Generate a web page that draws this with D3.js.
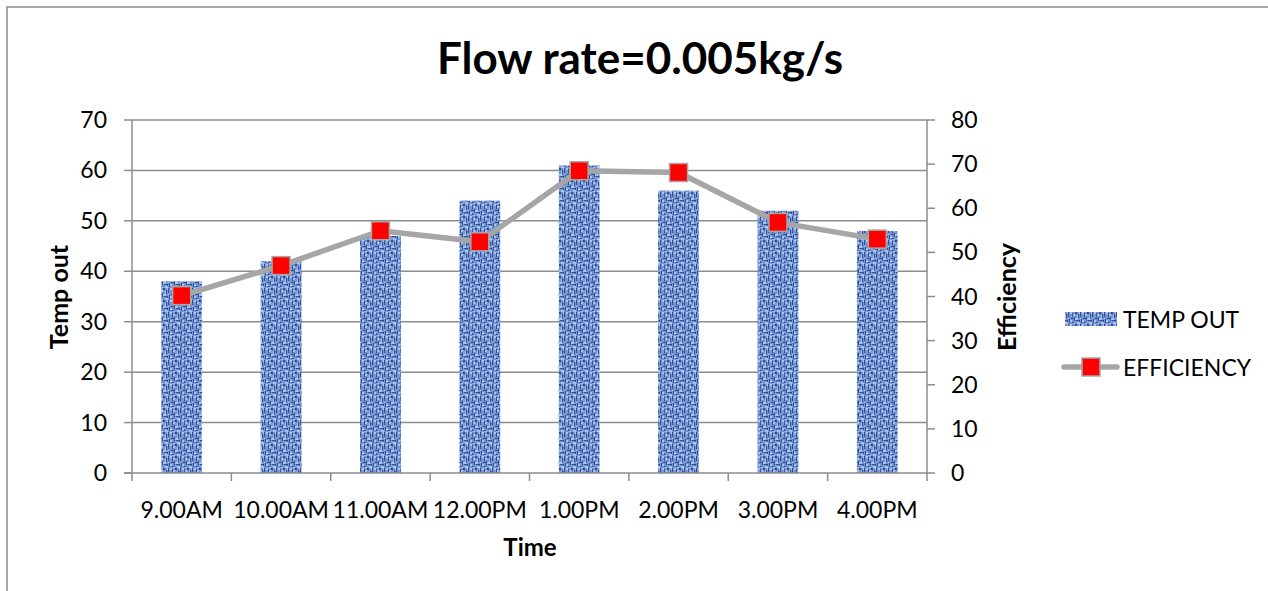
<!DOCTYPE html>
<html>
<head>
<meta charset="utf-8">
<script src="https://cdn.jsdelivr.net/npm/d3@7"></script>
<style>
  body { margin: 0; background: #fff; }
  svg { display: block; }
  text { font-family: Lato, "Open Sans", sans-serif; fill: #000; }
</style>
</head>
<body>
<svg id="chart" width="1268" height="591"></svg>
<script>
// data
const times = ['9.00AM', '10.00AM', '11.00AM', '12.00PM', '1.00PM', '2.00PM', '3.00PM', '4.00PM']
const tempOut = [38, 42, 47, 54, 61, 56, 52, 48]
const efficiency = [40.2, 47.0, 54.9, 52.4, 68.5, 68.1, 56.8, 53.0]
const leftTicks = [0, 10, 20, 30, 40, 50, 60, 70]
const rightTicks = [0, 10, 20, 30, 40, 50, 60, 70, 80]

let svg = d3.select('#chart')

// plot box
const plotLeft = 132, plotRight = 927, plotTop = 120, plotBottom = 473
const gridColor = '#8c8c8c'

let x = d3.scaleBand()
    .domain(times)
    .range([plotLeft, plotRight])
    .paddingInner(0.59)
    .paddingOuter(0.295)

let yL = d3.scaleLinear().domain([0, 70]).range([plotBottom, plotTop])
let yR = d3.scaleLinear().domain([0, 80]).range([plotBottom, plotTop])

// denim-like texture for bars
let defs = svg.append('defs')
let pat = defs.append('pattern')
    .attr('id', 'denim')
    .attr('patternUnits', 'userSpaceOnUse')
    .attr('width', 12)
    .attr('height', 12)
pat.append('rect').attr('width', 12).attr('height', 12).attr('fill', '#7494d4')
// dark threads
const darkBits = [[0,0,1,5],[4,1,1,4],[7,0,2,2],[10,2,1,4],[1,7,1,4],[3,6,3,1],[6,5,1,4],[8,8,3,1],[11,8,1,3],[4,10,2,1]]
darkBits.forEach(b => pat.append('rect').attr('x', b[0]).attr('y', b[1]).attr('width', b[2]).attr('height', b[3]).attr('fill', '#2f4f8f'))
// light threads
const lightBits = [[2,0,2,2],[5,2,2,2],[9,3,1,3],[0,6,1,1],[2,8,2,2],[7,6,3,2],[9,10,3,2],[5,11,2,1],[11,0,1,2]]
lightBits.forEach(b => pat.append('rect').attr('x', b[0]).attr('y', b[1]).attr('width', b[2]).attr('height', b[3]).attr('fill', '#a9c2ee'))

// outer chart border
svg.append('rect')
    .attr('x', 7).attr('y', 7)
    .attr('width', 1300).attr('height', 620)
    .attr('fill', 'none')
    .attr('stroke', '#8c8c8c')
    .attr('stroke-width', 1.5)

// gridlines (left scale)
svg.append('g')
    .selectAll('line')
    .data(leftTicks.filter(d => d > 0))
    .join('line')
    .attr('x1', plotLeft).attr('x2', plotRight)
    .attr('y1', d => yL(d)).attr('y2', d => yL(d))
    .attr('stroke', gridColor)
    .attr('stroke-width', 1.5)

// bars
svg.append('g')
    .selectAll('rect')
    .data(times)
    .join('rect')
    .attr('x', d => x(d))
    .attr('y', (d, i) => yL(tempOut[i]))
    .attr('width', x.bandwidth())
    .attr('height', (d, i) => plotBottom - yL(tempOut[i]))
    .attr('fill', 'url(#denim)')

// left axis
let axL = svg.append('g')
axL.append('line').attr('x1', plotLeft).attr('x2', plotLeft).attr('y1', plotTop).attr('y2', plotBottom)
    .attr('stroke', gridColor).attr('stroke-width', 1.5)
axL.selectAll('.tk').data(leftTicks).join('line')
    .attr('x1', plotLeft - 8).attr('x2', plotLeft)
    .attr('y1', d => yL(d)).attr('y2', d => yL(d))
    .attr('stroke', gridColor).attr('stroke-width', 1.5)
axL.selectAll('text').data(leftTicks).join('text')
    .attr('x', 107)
    .attr('y', d => yL(d) + 8)
    .attr('text-anchor', 'end')
    .style('font-size', '23px')
    .text(d => d)

// right axis
let axR = svg.append('g')
axR.append('line').attr('x1', plotRight).attr('x2', plotRight).attr('y1', plotTop).attr('y2', plotBottom)
    .attr('stroke', gridColor).attr('stroke-width', 1.5)
axR.selectAll('.tk').data(rightTicks).join('line')
    .attr('x1', plotRight).attr('x2', plotRight + 8)
    .attr('y1', d => yR(d)).attr('y2', d => yR(d))
    .attr('stroke', gridColor).attr('stroke-width', 1.5)
axR.selectAll('text').data(rightTicks).join('text')
    .attr('x', 951)
    .attr('y', d => yR(d) + 8)
    .style('font-size', '23px')
    .text(d => d)

// bottom axis
const gap = (x.step() - x.bandwidth()) / 2
const edges = times.map(d => x(d) - gap).concat([x(times[times.length - 1]) + x.bandwidth() + gap])
let axB = svg.append('g')
axB.append('line').attr('x1', plotLeft - 8).attr('x2', plotRight).attr('y1', plotBottom).attr('y2', plotBottom)
    .attr('stroke', gridColor).attr('stroke-width', 1.5)
axB.selectAll('.tk').data(edges).join('line')
    .attr('x1', d => d).attr('x2', d => d)
    .attr('y1', plotBottom).attr('y2', plotBottom + 8)
    .attr('stroke', gridColor).attr('stroke-width', 1.5)
axB.selectAll('text').data(times).join('text')
    .attr('x', d => x(d) + x.bandwidth() / 2)
    .attr('y', 518)
    .attr('text-anchor', 'middle')
    .style('font-size', '23px')
    .text(d => d)

// efficiency line
let line = d3.line()
    .x((d, i) => x(times[i]) + x.bandwidth() / 2)
    .y(d => yR(d))
svg.append('path')
    .datum(efficiency)
    .attr('d', line)
    .attr('fill', 'none')
    .attr('stroke', '#a6a6a6')
    .attr('stroke-width', 5.5)
    .attr('stroke-linejoin', 'round')

svg.append('g')
    .selectAll('rect')
    .data(efficiency)
    .join('rect')
    .attr('x', (d, i) => x(times[i]) + x.bandwidth() / 2 - 9)
    .attr('y', d => yR(d) - 9)
    .attr('width', 18)
    .attr('height', 18)
    .attr('fill', '#ff0000')
    .attr('stroke', '#a6a6a6')
    .attr('stroke-width', 1.5)

// title and axis titles
svg.append('text')
    .attr('x', 640).attr('y', 74)
    .attr('text-anchor', 'middle')
    .style('font-size', '44px')
    .style('font-weight', 'bold')
    .text('Flow rate=0.005kg/s')

svg.append('text')
    .attr('x', 530).attr('y', 556)
    .attr('text-anchor', 'middle')
    .style('font-size', '24px')
    .style('font-weight', 'bold')
    .text('Time')

svg.append('text')
    .attr('transform', 'translate(68,297) rotate(-90)')
    .attr('text-anchor', 'middle')
    .style('font-size', '25px')
    .style('font-weight', 'bold')
    .text('Temp out')

svg.append('text')
    .attr('transform', 'translate(1016,297) rotate(-90)')
    .attr('text-anchor', 'middle')
    .style('font-size', '25px')
    .style('font-weight', 'bold')
    .text('Efficiency')

// legend
let leg = svg.append('g')
leg.append('rect')
    .attr('x', 1065).attr('y', 312)
    .attr('width', 52).attr('height', 14)
    .attr('fill', 'url(#denim)')
leg.append('text')
    .attr('x', 1123).attr('y', 328)
    .style('font-size', '23px')
    .text('TEMP OUT')
leg.append('line')
    .attr('x1', 1064).attr('x2', 1117)
    .attr('y1', 367).attr('y2', 367)
    .attr('stroke', '#a6a6a6')
    .attr('stroke-width', 5.5)
    .attr('stroke-linecap', 'round')
leg.append('rect')
    .attr('x', 1082).attr('y', 358)
    .attr('width', 18).attr('height', 18)
    .attr('fill', '#ff0000')
    .attr('stroke', '#a6a6a6')
    .attr('stroke-width', 1.5)
leg.append('text')
    .attr('x', 1123).attr('y', 376)
    .style('font-size', '23px')
    .text('EFFICIENCY')
</script>
</body>
</html>
